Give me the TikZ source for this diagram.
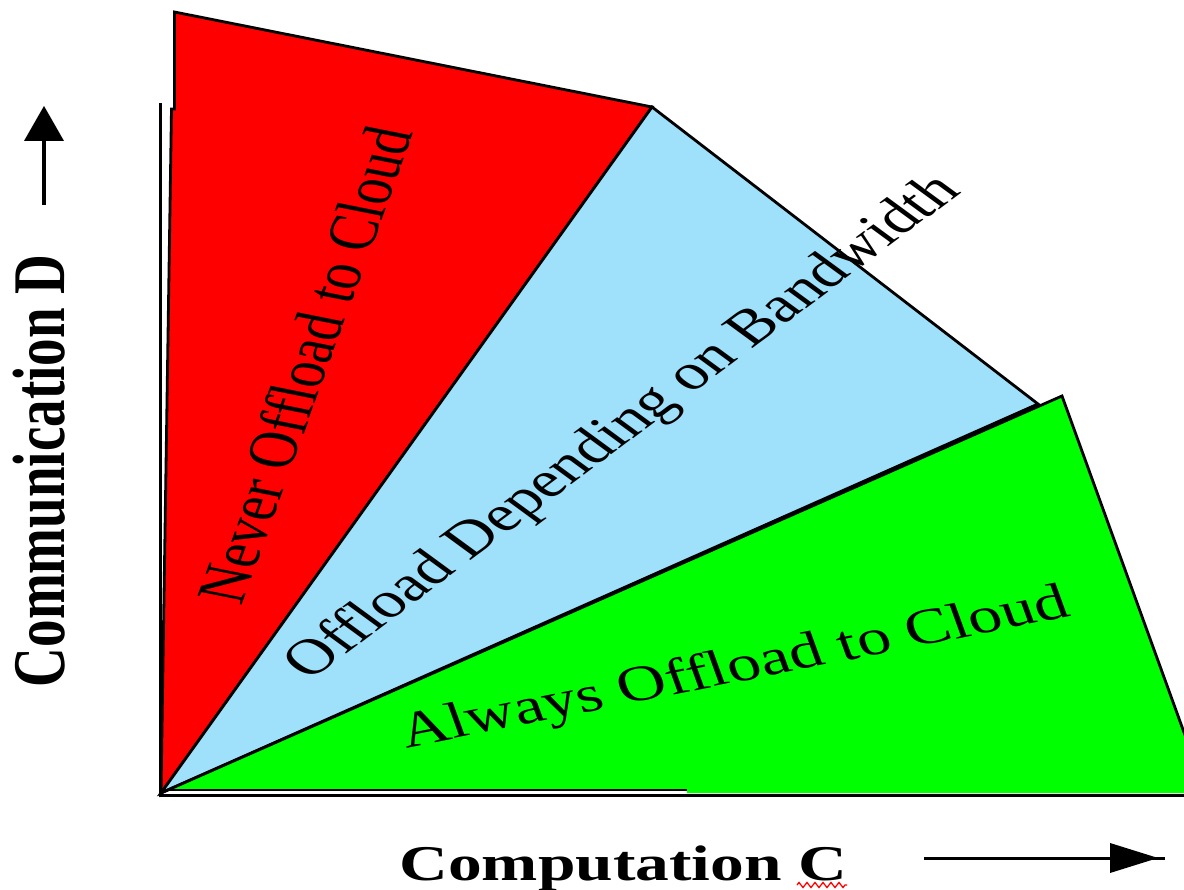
\documentclass[tikz,border=0pt]{standalone}
\usepackage{fontspec}
\setmainfont{Liberation Serif}
\usetikzlibrary{decorations.pathmorphing}
\definecolor{regred}{RGB}{255,0,0}
\definecolor{regblue}{RGB}{159,224,250}
\definecolor{reggreen}{RGB}{0,255,0}
\begin{document}
\begin{tikzpicture}[x=1pt,y=-1pt,
  edge/.style={draw=black,line width=2.8pt,line join=miter},
  axisline/.style={draw=black,line width=3pt},
  region/.style={inner sep=0pt,text=black,transform shape},
  axlab/.style={inner sep=0pt,text=black,font=\bfseries\fontsize{#1}{#1}\selectfont,transform shape},
  arrowshaft/.style={draw=black,line width=3.5pt},
  arrowhead/.style={fill=black}]
\useasboundingbox (0,0) rectangle (1184,890);
\clip (0,0) rectangle (1184,890);
% corner points
\coordinate (O)  at (161,793);
\coordinate (R1) at (174.5,12);
\coordinate (R2) at (652,107);
\coordinate (R3) at (171.5,109);
\coordinate (R4) at (174.5,109);
\coordinate (B3) at (1038,404);
\coordinate (G2) at (1062,396);
\coordinate (G3) at (1206,793);
\coordinate (G4) at (687,793);
\coordinate (G5) at (687,790);
\coordinate (G6) at (161,790);
% regions
\filldraw[fill=regred,edge] (R4) -- (R1) -- (R2) -- (O) -- (R3) -- cycle;
\filldraw[fill=regblue,edge] (O) -- (R2) -- (B3) -- cycle;
\fill[reggreen] (O) -- (G2) -- (G3) -- (G4) -- (G5) -- (G6) -- cycle;
\draw[edge] (O) -- (G2) -- (G3);
\draw[edge] (G6) -- (G5);
% axes
\coordinate (Ytop) at (160,103);
\coordinate (Ybot) at (160,797);
\coordinate (Xl) at (160,795.5);
\coordinate (Xr) at (1184,795.5);
\draw[axisline] (Ytop) -- (Ybot);
\draw[axisline] (Xl) -- (Xr);
% region labels
\begin{scope}[shift={(304,365)},xscale=1.35]
  \node[region,font=\fontsize{51.6}{52}\selectfont,rotate=74.9] (never) at (0,0) {Never Offload to Cloud};
\end{scope}
\begin{scope}[shift={(624,428)},xscale=1.35]
  \node[region,font=\fontsize{50.5}{51}\selectfont,rotate=45.35] (depend) at (0,0) {Offload Depending on Bandwidth};
\end{scope}
\begin{scope}[shift={(735,670)},xscale=1.35]
  \node[region,font=\fontsize{50.5}{51}\selectfont,rotate=15.0] (always) at (0,0) {Always Offload to Cloud};
\end{scope}
% axis labels
\begin{scope}[shift={(64,471)},xscale=1.35]
  \node[axlab=55,rotate=90,anchor=base] (ylab) at (0,0) {Communication D};
\end{scope}
\begin{scope}[shift={(623.5,880)},xscale=1.35]
  \node[axlab=50,anchor=base] (xlab) at (0,0) {Computation C};
\end{scope}
% spell-check squiggle
\coordinate (sq0) at (797,885);
\coordinate (sq1) at (847,885);
\draw[red,line width=1.3pt,decorate,decoration={zigzag,segment length=8pt,amplitude=2.5pt}] (sq0) -- (sq1);
% up arrow
\coordinate (ua0) at (44,205);
\coordinate (ua1) at (44,139);
\coordinate (uat) at (44,106);
\coordinate (ual) at (24,141);
\coordinate (uar) at (64,141);
\draw[arrowshaft] (ua0) -- (ua1);
\fill[arrowhead] (ual) -- (uat) -- (uar) -- cycle;
% right arrow
\coordinate (ra0) at (924,858);
\coordinate (ra1) at (1165,858);
\coordinate (rat) at (1158,858);
\coordinate (rau) at (1110,843);
\coordinate (rad) at (1110,873);
\draw[draw=black,line width=3pt] (ra0) -- (ra1);
\fill[arrowhead] (rau) -- (rat) -- (rad) -- cycle;
\end{tikzpicture}
\end{document}
